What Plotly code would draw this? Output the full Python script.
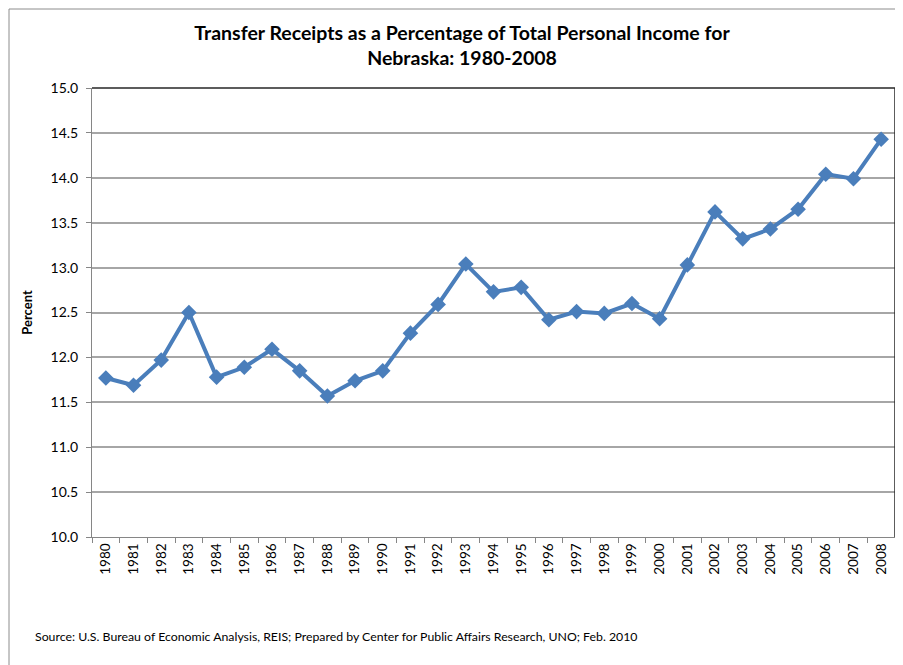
import plotly.graph_objects as go

years = [str(y) for y in range(1980, 2009)]
percent = [11.77, 11.69, 11.97, 12.50, 11.78, 11.89, 12.09, 11.85, 11.57, 11.74,
           11.85, 12.27, 12.59, 13.04, 12.73, 12.78, 12.42, 12.51, 12.49, 12.60,
           12.43, 13.03, 13.62, 13.32, 13.43, 13.65, 14.04, 13.99, 14.43]

y_ticks = [10.0 + 0.5 * i for i in range(11)]
y_labels = ['%.1f' % v for v in y_ticks]

blue = '#4a7ebb'
font = 'Lato, Calibri, Arial, sans-serif'

W, H = 895, 657
L, R, T, B = 84, 8, 80, 128
pw, ph = W - L - R, H - T - B

fig = go.Figure()
fig.add_trace(go.Scatter(x=years, y=percent, mode='lines+markers',
                         line=dict(color=blue, width=4),
                         marker=dict(symbol='diamond', size=12, color=blue),
                         showlegend=False))

fig.update_layout(
    width=W, height=H,
    margin=dict(l=L, r=R, t=T, b=B),
    paper_bgcolor='white', plot_bgcolor='white',
    font=dict(family=font, color='black'),
    title=dict(text='<b>Transfer Receipts as a Percentage of Total Personal Income for<br>Nebraska: 1980-2008</b>',
               x=454 / W, xanchor='center', y=1 - 32 / H, yanchor='top',
               font=dict(size=19.5, family=font)),
    xaxis=dict(type='category', range=[-0.5, 28.5], tickangle=-90,
               tickson='boundaries', ticks='outside', ticklen=5, tickcolor='#868686',
               showline=True, linecolor='#868686', linewidth=1,
               showgrid=False, tickfont=dict(size=13.5)),
    yaxis=dict(range=[10, 15], tickvals=y_ticks, ticktext=y_labels,
               ticks='outside', ticklen=5, tickcolor='#868686',
               showline=True, linecolor='#868686', linewidth=1,
               gridcolor='#a6a6a6', gridwidth=1.6,
               tickfont=dict(size=14), ticklabelstandoff=5,
               title=dict(text='<b>Percent</b>', font=dict(size=13), standoff=14)),
)

# plot area border (dark on top and right)
fig.add_shape(type='line', xref='paper', yref='paper', x0=0, x1=1, y0=1, y1=1,
              line=dict(color='#262626', width=1.5))
fig.add_shape(type='line', xref='paper', yref='paper', x0=1, x1=1, y0=0, y1=1,
              line=dict(color='#262626', width=1.5))

# outer chart border
fig.add_shape(type='rect', xref='paper', yref='paper',
              x0=-(L - 1) / pw, x1=1 + (R + 2) / pw, y0=-(B + 2) / ph, y1=1 + (T - 1) / ph,
              line=dict(color='#8c8c8c', width=1))

fig.add_annotation(text='Source: U.S. Bureau of Economic Analysis, REIS; Prepared by Center for Public Affairs Research, UNO; Feb. 2010',
                   xref='paper', yref='paper', x=-(L - 25) / pw, y=-99 / ph,
                   xanchor='left', yanchor='middle', showarrow=False,
                   font=dict(size=12.3, family=font))

fig.write_html("out.html")
